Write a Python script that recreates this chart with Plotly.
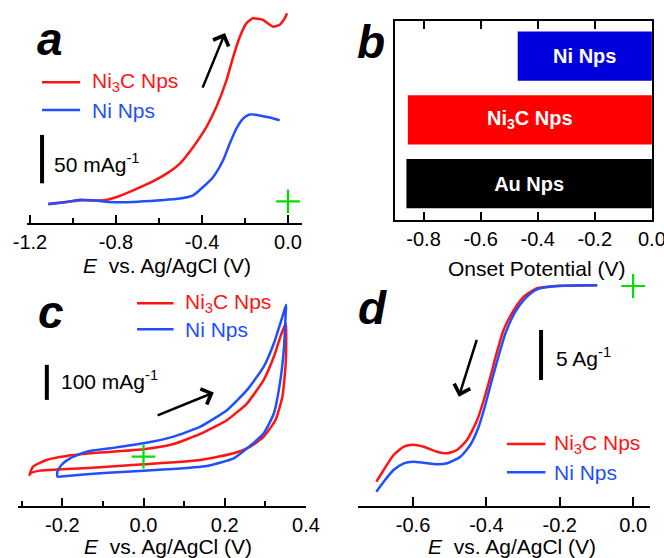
import plotly.graph_objects as go

W, H = 664, 558
FONT = "Liberation Sans, Arial, sans-serif"
RED = "#ff1414"
BLUE = "#1f4fff"
GREEN = "#00e000"
BARBLUE = "#0000dd"

# ---------------- Panel a : LSV (mA/g) ----------------
a_red_E = [-1.115, -1.030, -0.952, -0.859, -0.797, -0.720, -0.643, -0.565, -0.503,
           -0.441, -0.379, -0.333, -0.286, -0.255, -0.224, -0.194, -0.163, -0.116,
           -0.070, -0.039, -0.015, -0.005]
a_red_I = [20.0, 21.7, 23.4, 23.4, 26.9, 33.8, 41.4, 51.0, 61.4, 78.6, 99.3, 120.0,
           147.6, 171.7, 192.4, 206.2, 211.4, 209.7, 202.8, 204.5, 211.4, 216.6]
a_blue_E = [-1.115, -1.030, -0.968, -0.906, -0.828, -0.720, -0.596, -0.503, -0.441,
            -0.395, -0.348, -0.302, -0.271, -0.240, -0.209, -0.178, -0.139, -0.085, -0.039]
a_blue_I = [19.3, 21.7, 24.1, 23.4, 21.7, 21.7, 23.4, 25.2, 28.6, 37.2, 47.6, 64.8,
            82.1, 97.6, 107.9, 112.1, 111.4, 109.0, 106.2]
a_ticks = [-1.2, -0.8, -0.4, 0.0]
a_ticktext = ["-1.2", "-0.8", "-0.4", "0.0"]
a_scale = 50  # mA/g

# ---------------- Panel b : onset potentials ----------------
b_labels = ["<b>Au Nps</b>", "<b>Ni<sub>3</sub>C Nps</b>", "<b>Ni Nps</b>"]
b_onset = [-0.86, -0.855, -0.47]
b_pos = [0, 1, 2]
b_colors = ["#000000", "#ff0000", BARBLUE]
b_ticks = [-0.8, -0.6, -0.4, -0.2, 0.0]
b_ticktext = ["-0.8", "-0.6", "-0.4", "-0.2", "0.0"]

# ---------------- Panel c : CV (mA/g) ----------------
c_red_E = [-0.281, -0.272, -0.239, -0.189, -0.107, 0.000, 0.074, 0.140, 0.206, 0.255,
           0.296, 0.321, 0.337, 0.350, 0.351, 0.350, 0.342, 0.325, 0.296, 0.263,
           0.222, 0.140, 0.000, -0.107, -0.189, -0.255, -0.278, -0.281]
c_red_I = [88.6, 112.4, 131.4, 142.9, 152.4, 161.9, 177.1, 205.7, 245.7, 293.3,
           360.0, 426.7, 483.8, 521.9, 502.9, 407.6, 312.4, 245.7, 198.1, 169.5,
           150.5, 131.4, 119.0, 110.5, 105.7, 101.0, 93.3, 88.6]
c_blue_E = [-0.212, -0.212, -0.202, -0.181, -0.140, -0.082, 0.000, 0.074, 0.140, 0.206,
            0.255, 0.296, 0.321, 0.342, 0.351, 0.350, 0.346, 0.337, 0.321, 0.296,
            0.255, 0.222, 0.156, 0.058, 0.000, -0.107, -0.189, -0.212]
c_blue_I = [83.8, 98.1, 117.1, 136.2, 155.2, 164.8, 179.0, 198.1, 226.7, 274.3,
            331.4, 398.1, 464.8, 541.0, 574.3, 550.5, 455.2, 360.0, 264.8, 207.6,
            164.8, 136.2, 114.3, 104.8, 101.0, 93.3, 85.7, 83.8]
c_ticks = [-0.2, 0.0, 0.2, 0.4]
c_ticktext = ["-0.2", "0.0", "0.2", "0.4"]
c_scale = 100  # mA/g

# ---------------- Panel d : ORR LSV (A/g) ----------------
d_red_E = [-0.700, -0.680, -0.653, -0.625, -0.600, -0.571, -0.535, -0.507, -0.480,
           -0.453, -0.425, -0.407, -0.389, -0.371, -0.353, -0.325, -0.298, -0.262,
           -0.207, -0.098]
d_red_I = [2.43, 3.60, 5.10, 5.93, 6.13, 5.93, 5.43, 5.27, 5.60, 6.60, 8.60, 10.60,
           12.93, 15.43, 17.60, 19.60, 20.93, 21.77, 22.00, 22.07]
d_blue_E = [-0.700, -0.680, -0.653, -0.625, -0.600, -0.571, -0.535, -0.507, -0.471,
            -0.444, -0.421, -0.403, -0.385, -0.366, -0.348, -0.321, -0.294, -0.262,
            -0.207, -0.098]
d_blue_I = [1.43, 2.43, 3.60, 4.27, 4.43, 4.33, 4.17, 4.27, 4.93, 6.10, 7.93, 10.10,
            12.60, 15.10, 17.27, 19.43, 20.77, 21.67, 22.00, 22.07]
d_ticks = [-0.6, -0.4, -0.2, 0.0]
d_ticktext = ["-0.6", "-0.4", "-0.2", "0.0"]
d_scale = 5  # A/g


def dx(x0, x1):
    return [x0 / W, x1 / W]


def dy(top, bottom):
    return [1 - bottom / H, 1 - top / H]


def px(x):
    return x / W


def py(y):
    return 1 - y / H


fig = go.Figure()


def curve(x, y, color, xa, ya, smooth=0.6):
    fig.add_trace(go.Scatter(x=x, y=y, mode="lines", xaxis=xa, yaxis=ya,
                             line=dict(color=color, width=2.5, shape="spline",
                                       smoothing=smooth),
                             showlegend=False, hoverinfo="skip"))


def plus(x, y, xa, ya):
    fig.add_trace(go.Scatter(x=[x], y=[y], mode="markers", xaxis=xa, yaxis=ya,
                             marker=dict(symbol="cross-thin", size=17,
                                         line=dict(color=GREEN, width=2.2)),
                             cliponaxis=False, showlegend=False, hoverinfo="skip"))


def scalebar(x, y0, length, xa, ya):
    fig.add_trace(go.Scatter(x=[x, x], y=[y0, y0 + length], mode="lines",
                             xaxis=xa, yaxis=ya, line=dict(color="black", width=4),
                             showlegend=False, hoverinfo="skip"))


def legline(x0, x1, y, color, xa, ya):
    fig.add_trace(go.Scatter(x=[x0, x1], y=[y, y], mode="lines", xaxis=xa, yaxis=ya,
                             line=dict(color=color, width=2.5),
                             showlegend=False, hoverinfo="skip"))


# panel a
curve(a_red_E, a_red_I, RED, "x", "y", 0.4)
curve(a_blue_E, a_blue_I, BLUE, "x", "y", 0.6)
plus(0.0, 22.4, "x", "y")
scalebar(-1.144, 41, a_scale, "x", "y")
legline(-1.144, -0.967, 145.5, RED, "x", "y")
legline(-1.144, -0.967, 116.6, BLUE, "x", "y")

# panel b
fig.add_trace(go.Bar(x=b_onset, y=b_pos, orientation="h", xaxis="x2", yaxis="y2",
                     marker=dict(color=b_colors, line=dict(width=0)), width=0.77,
                     text=b_labels, textposition="inside", insidetextanchor="middle",
                     textangle=0,
                     textfont=dict(color="white", size=20, family=FONT),
                     showlegend=False, hoverinfo="skip"))

# panel c
curve(c_red_E, c_red_I, RED, "x3", "y3", 0.5)
curve(c_blue_E, c_blue_I, BLUE, "x3", "y3", 0.5)
plus(0.0, 141, "x3", "y3")
scalebar(-0.238, 303, c_scale, "x3", "y3")
legline(-0.016, 0.074, 579, RED, "x3", "y3")
legline(-0.016, 0.074, 505, BLUE, "x3", "y3")

# panel d
curve(d_red_E, d_red_I, RED, "x4", "y4", 0.6)
curve(d_blue_E, d_blue_I, BLUE, "x4", "y4", 0.6)
plus(0.0, 22.0, "x4", "y4")
scalebar(-0.251, 12.6, d_scale, "x4", "y4")
legline(-0.344, -0.239, 6.2, RED, "x4", "y4")
legline(-0.344, -0.239, 3.37, BLUE, "x4", "y4")

tickfont = dict(family=FONT, size=20, color="black")
common_x = dict(showline=True, linecolor="black", linewidth=2, ticks="inside",
                tickcolor="black", tickwidth=2, ticklen=8, tickfont=tickfont,
                showgrid=False, zeroline=False, automargin=False, tickmode="array",
                ticklabelstandoff=0, ticklabeloverflow="allow")
hidden_y = dict(visible=False, showgrid=False, zeroline=False, automargin=False)

fig.update_layout(
    width=W, height=H, margin=dict(l=0, r=0, t=0, b=0),
    paper_bgcolor="white", plot_bgcolor="rgba(0,0,0,0)",
    font=dict(family=FONT, color="black"),
    xaxis=dict(common_x, domain=dx(27, 302), range=[-1.214, 0.065], anchor="y",
               tickvals=a_ticks, ticktext=a_ticktext,
               minor=dict(tickvals=[-1.0, -0.6, -0.2], ticks="inside", ticklen=5,
                          tickwidth=2, tickcolor="black")),
    yaxis=dict(hidden_y, domain=dy(10, 223), range=[0, 220], anchor="x"),
    xaxis2=dict(common_x, domain=dx(395, 652), range=[-0.9, 0.0005], anchor="y2",
                tickvals=b_ticks, ticktext=b_ticktext, mirror="ticks"),
    yaxis2=dict(showline=True, linecolor="black", linewidth=2, mirror=True,
                showticklabels=False, ticks="", showgrid=False, zeroline=False,
                automargin=False, domain=dy(21, 220), range=[-0.57, 2.55],
                anchor="x2"),
    xaxis3=dict(common_x, domain=dx(18, 306), range=[-0.309, 0.4], anchor="y3",
                tickvals=c_ticks, ticktext=c_ticktext,
                minor=dict(tickvals=[-0.3, -0.1, 0.1, 0.3], ticks="inside", ticklen=5,
                           tickwidth=2, tickcolor="black")),
    yaxis3=dict(hidden_y, domain=dy(285, 506), range=[0, 631], anchor="x3"),
    xaxis4=dict(common_x, domain=dx(358, 650), range=[-0.75, 0.046], anchor="y4",
                tickvals=d_ticks, ticktext=d_ticktext, ticklen=9),
    yaxis4=dict(hidden_y, domain=dy(283, 506), range=[0, 22.3], anchor="x4"),
)

ann = []


def text_paper(x, y, t, size=21, color="black", xanchor="center"):
    ann.append(dict(x=px(x), y=py(y), xref="paper", yref="paper", text=t,
                    showarrow=False, xanchor=xanchor, yanchor="middle",
                    font=dict(family=FONT, size=size, color=color)))


def text_data(x, y, t, xa, ya, size=21, color="black"):
    ann.append(dict(x=x, y=y, xref=xa, yref=ya, text=t, showarrow=False,
                    xanchor="left", yanchor="middle",
                    font=dict(family=FONT, size=size, color=color)))


def arrow(x_tail, y_tail, x_head, y_head, xa, ya):
    ann.append(dict(x=x_head, y=y_head, ax=x_tail, ay=y_tail, xref=xa, yref=ya,
                    axref=xa, ayref=ya, text="", showarrow=True, arrowhead=4,
                    arrowsize=1.3, arrowwidth=2.5, arrowcolor="black"))


# panel letters
for (x, y, t) in [(50, 39, "a"), (371, 42, "b"), (51, 312, "c"), (372, 308, "d")]:
    text_paper(x, y, "<b><i>%s</i></b>" % t, size=46)

# axis titles
xtitle = "<i>E</i>&nbsp; vs. Ag/AgCl (V)"
text_paper(167, 265, xtitle)
text_paper(536, 268, "Onset Potential (V)")
text_paper(168, 546, xtitle)
text_paper(512, 546, xtitle)

# panel a legend / scale
text_data(-0.921, 145.5, "Ni<sub>3</sub>C Nps", "x", "y", color=RED)
text_data(-0.921, 116.6, "Ni Nps", "x", "y", color=BLUE)
text_data(-1.098, 62, "50 mAg<sup>-1</sup>", "x", "y")
arrow(-0.40, 138.3, -0.293, 196.2, "x", "y")

# panel c legend / scale
text_data(0.097, 579, "Ni<sub>3</sub>C Nps", "x3", "y3", color=RED)
text_data(0.097, 505, "Ni Nps", "x3", "y3", color=BLUE)
text_data(-0.208, 360, "100 mAg<sup>-1</sup>", "x3", "y3")
arrow(0.031, 257, 0.173, 324, "x3", "y3")

# panel d legend / scale
text_data(-0.221, 6.2, "Ni<sub>3</sub>C Nps", "x4", "y4", color=RED)
text_data(-0.221, 3.37, "Ni Nps", "x4", "y4", color=BLUE)
text_data(-0.217, 14.9, "5 Ag<sup>-1</sup>", "x4", "y4")
arrow(-0.425, 16.77, -0.475, 10.93, "x4", "y4")

fig.update_layout(annotations=ann)

fig.write_html("out.html", config={"displayModeBar": False},
               post_script="document.body.style.margin='0px';"
                           "document.body.style.overflow='hidden';")
